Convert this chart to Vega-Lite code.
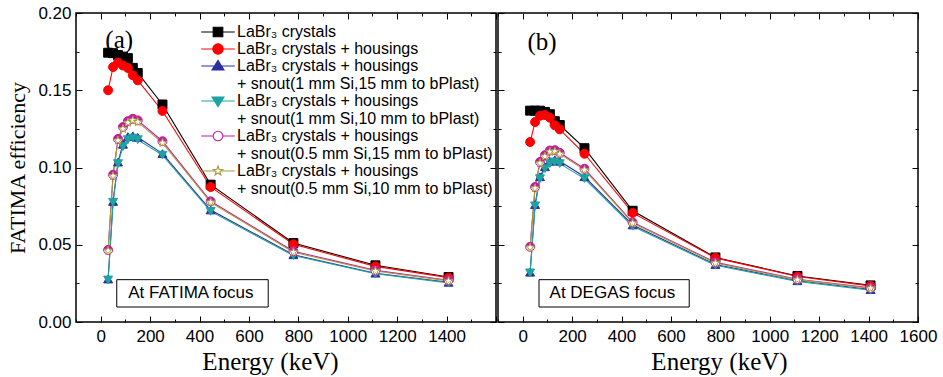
{
  "$schema": "https://vega.github.io/schema/vega-lite/v6.json",
  "padding": {"left": 6, "top": 3, "right": 5, "bottom": 2},
  "background": "white",
  "spacing": -2,
  "config": {
    "view": {"stroke": "#000", "strokeWidth": 1.5},
    "axis": {"labelFont": "Liberation Sans", "labelFontSize": 17, "labelColor": "#000", "tickColor": "#000", "tickWidth": 1, "domain": false, "grid": false, "titleFont": "Liberation Serif", "titleFontWeight": "normal", "titleColor": "#000", "labelOverlap": false, "labelFlush": false}
  },
  "data": {"values": [
    {"panel":"a","series":"LaBr₃ crystals","energy":30,"eff":0.1743},
    {"panel":"a","series":"LaBr₃ crystals","energy":50,"eff":0.1740},
    {"panel":"a","series":"LaBr₃ crystals","energy":70,"eff":0.1728},
    {"panel":"a","series":"LaBr₃ crystals","energy":90,"eff":0.1718},
    {"panel":"a","series":"LaBr₃ crystals","energy":110,"eff":0.1708},
    {"panel":"a","series":"LaBr₃ crystals","energy":130,"eff":0.1645},
    {"panel":"a","series":"LaBr₃ crystals","energy":150,"eff":0.1612},
    {"panel":"a","series":"LaBr₃ crystals","energy":250,"eff":0.1408},
    {"panel":"a","series":"LaBr₃ crystals","energy":445,"eff":0.0889},
    {"panel":"a","series":"LaBr₃ crystals","energy":780,"eff":0.0511},
    {"panel":"a","series":"LaBr₃ crystals","energy":1112,"eff":0.0367},
    {"panel":"a","series":"LaBr₃ crystals","energy":1408,"eff":0.0291},
    {"panel":"a","series":"LaBr₃ crystals + housings","energy":30,"eff":0.1500},
    {"panel":"a","series":"LaBr₃ crystals + housings","energy":50,"eff":0.1650},
    {"panel":"a","series":"LaBr₃ crystals + housings","energy":70,"eff":0.1680},
    {"panel":"a","series":"LaBr₃ crystals + housings","energy":90,"eff":0.1660},
    {"panel":"a","series":"LaBr₃ crystals + housings","energy":110,"eff":0.1644},
    {"panel":"a","series":"LaBr₃ crystals + housings","energy":130,"eff":0.1597},
    {"panel":"a","series":"LaBr₃ crystals + housings","energy":150,"eff":0.1564},
    {"panel":"a","series":"LaBr₃ crystals + housings","energy":250,"eff":0.1366},
    {"panel":"a","series":"LaBr₃ crystals + housings","energy":445,"eff":0.0874},
    {"panel":"a","series":"LaBr₃ crystals + housings","energy":780,"eff":0.0503},
    {"panel":"a","series":"LaBr₃ crystals + housings","energy":1112,"eff":0.0360},
    {"panel":"a","series":"LaBr₃ crystals + housings","energy":1408,"eff":0.0287},
    {"panel":"a","series":"LaBr₃ crystals + housings + snout(1 mm Si,15 mm to bPlast)","energy":30,"eff":0.0278},
    {"panel":"a","series":"LaBr₃ crystals + housings + snout(1 mm Si,15 mm to bPlast)","energy":50,"eff":0.0780},
    {"panel":"a","series":"LaBr₃ crystals + housings + snout(1 mm Si,15 mm to bPlast)","energy":70,"eff":0.1035},
    {"panel":"a","series":"LaBr₃ crystals + housings + snout(1 mm Si,15 mm to bPlast)","energy":90,"eff":0.1150},
    {"panel":"a","series":"LaBr₃ crystals + housings + snout(1 mm Si,15 mm to bPlast)","energy":110,"eff":0.1200},
    {"panel":"a","series":"LaBr₃ crystals + housings + snout(1 mm Si,15 mm to bPlast)","energy":130,"eff":0.1205},
    {"panel":"a","series":"LaBr₃ crystals + housings + snout(1 mm Si,15 mm to bPlast)","energy":150,"eff":0.1195},
    {"panel":"a","series":"LaBr₃ crystals + housings + snout(1 mm Si,15 mm to bPlast)","energy":250,"eff":0.1090},
    {"panel":"a","series":"LaBr₃ crystals + housings + snout(1 mm Si,15 mm to bPlast)","energy":445,"eff":0.0725},
    {"panel":"a","series":"LaBr₃ crystals + housings + snout(1 mm Si,15 mm to bPlast)","energy":780,"eff":0.0435},
    {"panel":"a","series":"LaBr₃ crystals + housings + snout(1 mm Si,15 mm to bPlast)","energy":1112,"eff":0.0316},
    {"panel":"a","series":"LaBr₃ crystals + housings + snout(1 mm Si,15 mm to bPlast)","energy":1408,"eff":0.0257},
    {"panel":"a","series":"LaBr₃ crystals + housings + snout(1 mm Si,10 mm to bPlast)","energy":30,"eff":0.0272},
    {"panel":"a","series":"LaBr₃ crystals + housings + snout(1 mm Si,10 mm to bPlast)","energy":50,"eff":0.0775},
    {"panel":"a","series":"LaBr₃ crystals + housings + snout(1 mm Si,10 mm to bPlast)","energy":70,"eff":0.1025},
    {"panel":"a","series":"LaBr₃ crystals + housings + snout(1 mm Si,10 mm to bPlast)","energy":90,"eff":0.1135},
    {"panel":"a","series":"LaBr₃ crystals + housings + snout(1 mm Si,10 mm to bPlast)","energy":110,"eff":0.1180},
    {"panel":"a","series":"LaBr₃ crystals + housings + snout(1 mm Si,10 mm to bPlast)","energy":130,"eff":0.1190},
    {"panel":"a","series":"LaBr₃ crystals + housings + snout(1 mm Si,10 mm to bPlast)","energy":150,"eff":0.1180},
    {"panel":"a","series":"LaBr₃ crystals + housings + snout(1 mm Si,10 mm to bPlast)","energy":250,"eff":0.1080},
    {"panel":"a","series":"LaBr₃ crystals + housings + snout(1 mm Si,10 mm to bPlast)","energy":445,"eff":0.0716},
    {"panel":"a","series":"LaBr₃ crystals + housings + snout(1 mm Si,10 mm to bPlast)","energy":780,"eff":0.0430},
    {"panel":"a","series":"LaBr₃ crystals + housings + snout(1 mm Si,10 mm to bPlast)","energy":1112,"eff":0.0312},
    {"panel":"a","series":"LaBr₃ crystals + housings + snout(1 mm Si,10 mm to bPlast)","energy":1408,"eff":0.0253},
    {"panel":"a","series":"LaBr₃ crystals + housings + snout(0.5 mm Si,15 mm to bPlast)","energy":30,"eff":0.0466},
    {"panel":"a","series":"LaBr₃ crystals + housings + snout(0.5 mm Si,15 mm to bPlast)","energy":50,"eff":0.0953},
    {"panel":"a","series":"LaBr₃ crystals + housings + snout(0.5 mm Si,15 mm to bPlast)","energy":70,"eff":0.1185},
    {"panel":"a","series":"LaBr₃ crystals + housings + snout(0.5 mm Si,15 mm to bPlast)","energy":90,"eff":0.1262},
    {"panel":"a","series":"LaBr₃ crystals + housings + snout(0.5 mm Si,15 mm to bPlast)","energy":110,"eff":0.1300},
    {"panel":"a","series":"LaBr₃ crystals + housings + snout(0.5 mm Si,15 mm to bPlast)","energy":130,"eff":0.1315},
    {"panel":"a","series":"LaBr₃ crystals + housings + snout(0.5 mm Si,15 mm to bPlast)","energy":150,"eff":0.1305},
    {"panel":"a","series":"LaBr₃ crystals + housings + snout(0.5 mm Si,15 mm to bPlast)","energy":250,"eff":0.1170},
    {"panel":"a","series":"LaBr₃ crystals + housings + snout(0.5 mm Si,15 mm to bPlast)","energy":445,"eff":0.0781},
    {"panel":"a","series":"LaBr₃ crystals + housings + snout(0.5 mm Si,15 mm to bPlast)","energy":780,"eff":0.0458},
    {"panel":"a","series":"LaBr₃ crystals + housings + snout(0.5 mm Si,15 mm to bPlast)","energy":1112,"eff":0.0334},
    {"panel":"a","series":"LaBr₃ crystals + housings + snout(0.5 mm Si,15 mm to bPlast)","energy":1408,"eff":0.0270},
    {"panel":"a","series":"LaBr₃ crystals + housings + snout(0.5 mm Si,10 mm to bPlast)","energy":30,"eff":0.0462},
    {"panel":"a","series":"LaBr₃ crystals + housings + snout(0.5 mm Si,10 mm to bPlast)","energy":50,"eff":0.0945},
    {"panel":"a","series":"LaBr₃ crystals + housings + snout(0.5 mm Si,10 mm to bPlast)","energy":70,"eff":0.1175},
    {"panel":"a","series":"LaBr₃ crystals + housings + snout(0.5 mm Si,10 mm to bPlast)","energy":90,"eff":0.1250},
    {"panel":"a","series":"LaBr₃ crystals + housings + snout(0.5 mm Si,10 mm to bPlast)","energy":110,"eff":0.1290},
    {"panel":"a","series":"LaBr₃ crystals + housings + snout(0.5 mm Si,10 mm to bPlast)","energy":130,"eff":0.1305},
    {"panel":"a","series":"LaBr₃ crystals + housings + snout(0.5 mm Si,10 mm to bPlast)","energy":150,"eff":0.1295},
    {"panel":"a","series":"LaBr₃ crystals + housings + snout(0.5 mm Si,10 mm to bPlast)","energy":250,"eff":0.1160},
    {"panel":"a","series":"LaBr₃ crystals + housings + snout(0.5 mm Si,10 mm to bPlast)","energy":445,"eff":0.0775},
    {"panel":"a","series":"LaBr₃ crystals + housings + snout(0.5 mm Si,10 mm to bPlast)","energy":780,"eff":0.0452},
    {"panel":"a","series":"LaBr₃ crystals + housings + snout(0.5 mm Si,10 mm to bPlast)","energy":1112,"eff":0.0330},
    {"panel":"a","series":"LaBr₃ crystals + housings + snout(0.5 mm Si,10 mm to bPlast)","energy":1408,"eff":0.0266},
    {"panel":"b","series":"LaBr₃ crystals","energy":30,"eff":0.1368},
    {"panel":"b","series":"LaBr₃ crystals","energy":50,"eff":0.1368},
    {"panel":"b","series":"LaBr₃ crystals","energy":70,"eff":0.1368},
    {"panel":"b","series":"LaBr₃ crystals","energy":90,"eff":0.1360},
    {"panel":"b","series":"LaBr₃ crystals","energy":110,"eff":0.1345},
    {"panel":"b","series":"LaBr₃ crystals","energy":130,"eff":0.1300},
    {"panel":"b","series":"LaBr₃ crystals","energy":150,"eff":0.1275},
    {"panel":"b","series":"LaBr₃ crystals","energy":250,"eff":0.1125},
    {"panel":"b","series":"LaBr₃ crystals","energy":445,"eff":0.0720},
    {"panel":"b","series":"LaBr₃ crystals","energy":780,"eff":0.0418},
    {"panel":"b","series":"LaBr₃ crystals","energy":1112,"eff":0.0298},
    {"panel":"b","series":"LaBr₃ crystals","energy":1408,"eff":0.0237},
    {"panel":"b","series":"LaBr₃ crystals + housings","energy":30,"eff":0.1165},
    {"panel":"b","series":"LaBr₃ crystals + housings","energy":50,"eff":0.1294},
    {"panel":"b","series":"LaBr₃ crystals + housings","energy":70,"eff":0.1335},
    {"panel":"b","series":"LaBr₃ crystals + housings","energy":90,"eff":0.1340},
    {"panel":"b","series":"LaBr₃ crystals + housings","energy":110,"eff":0.1322},
    {"panel":"b","series":"LaBr₃ crystals + housings","energy":130,"eff":0.1273},
    {"panel":"b","series":"LaBr₃ crystals + housings","energy":150,"eff":0.1247},
    {"panel":"b","series":"LaBr₃ crystals + housings","energy":250,"eff":0.1089},
    {"panel":"b","series":"LaBr₃ crystals + housings","energy":445,"eff":0.0706},
    {"panel":"b","series":"LaBr₃ crystals + housings","energy":780,"eff":0.0415},
    {"panel":"b","series":"LaBr₃ crystals + housings","energy":1112,"eff":0.0295},
    {"panel":"b","series":"LaBr₃ crystals + housings","energy":1408,"eff":0.0234},
    {"panel":"b","series":"LaBr₃ crystals + housings + snout(1 mm Si,15 mm to bPlast)","energy":30,"eff":0.0322},
    {"panel":"b","series":"LaBr₃ crystals + housings + snout(1 mm Si,15 mm to bPlast)","energy":50,"eff":0.0760},
    {"panel":"b","series":"LaBr₃ crystals + housings + snout(1 mm Si,15 mm to bPlast)","energy":70,"eff":0.0940},
    {"panel":"b","series":"LaBr₃ crystals + housings + snout(1 mm Si,15 mm to bPlast)","energy":90,"eff":0.1005},
    {"panel":"b","series":"LaBr₃ crystals + housings + snout(1 mm Si,15 mm to bPlast)","energy":110,"eff":0.1040},
    {"panel":"b","series":"LaBr₃ crystals + housings + snout(1 mm Si,15 mm to bPlast)","energy":130,"eff":0.1050},
    {"panel":"b","series":"LaBr₃ crystals + housings + snout(1 mm Si,15 mm to bPlast)","energy":150,"eff":0.1040},
    {"panel":"b","series":"LaBr₃ crystals + housings + snout(1 mm Si,15 mm to bPlast)","energy":250,"eff":0.0940},
    {"panel":"b","series":"LaBr₃ crystals + housings + snout(1 mm Si,15 mm to bPlast)","energy":445,"eff":0.0628},
    {"panel":"b","series":"LaBr₃ crystals + housings + snout(1 mm Si,15 mm to bPlast)","energy":780,"eff":0.0372},
    {"panel":"b","series":"LaBr₃ crystals + housings + snout(1 mm Si,15 mm to bPlast)","energy":1112,"eff":0.0267},
    {"panel":"b","series":"LaBr₃ crystals + housings + snout(1 mm Si,15 mm to bPlast)","energy":1408,"eff":0.0210},
    {"panel":"b","series":"LaBr₃ crystals + housings + snout(1 mm Si,10 mm to bPlast)","energy":30,"eff":0.0318},
    {"panel":"b","series":"LaBr₃ crystals + housings + snout(1 mm Si,10 mm to bPlast)","energy":50,"eff":0.0752},
    {"panel":"b","series":"LaBr₃ crystals + housings + snout(1 mm Si,10 mm to bPlast)","energy":70,"eff":0.0928},
    {"panel":"b","series":"LaBr₃ crystals + housings + snout(1 mm Si,10 mm to bPlast)","energy":90,"eff":0.0992},
    {"panel":"b","series":"LaBr₃ crystals + housings + snout(1 mm Si,10 mm to bPlast)","energy":110,"eff":0.1025},
    {"panel":"b","series":"LaBr₃ crystals + housings + snout(1 mm Si,10 mm to bPlast)","energy":130,"eff":0.1036},
    {"panel":"b","series":"LaBr₃ crystals + housings + snout(1 mm Si,10 mm to bPlast)","energy":150,"eff":0.1025},
    {"panel":"b","series":"LaBr₃ crystals + housings + snout(1 mm Si,10 mm to bPlast)","energy":250,"eff":0.0928},
    {"panel":"b","series":"LaBr₃ crystals + housings + snout(1 mm Si,10 mm to bPlast)","energy":445,"eff":0.0620},
    {"panel":"b","series":"LaBr₃ crystals + housings + snout(1 mm Si,10 mm to bPlast)","energy":780,"eff":0.0367},
    {"panel":"b","series":"LaBr₃ crystals + housings + snout(1 mm Si,10 mm to bPlast)","energy":1112,"eff":0.0263},
    {"panel":"b","series":"LaBr₃ crystals + housings + snout(1 mm Si,10 mm to bPlast)","energy":1408,"eff":0.0206},
    {"panel":"b","series":"LaBr₃ crystals + housings + snout(0.5 mm Si,15 mm to bPlast)","energy":30,"eff":0.0487},
    {"panel":"b","series":"LaBr₃ crystals + housings + snout(0.5 mm Si,15 mm to bPlast)","energy":50,"eff":0.0874},
    {"panel":"b","series":"LaBr₃ crystals + housings + snout(0.5 mm Si,15 mm to bPlast)","energy":70,"eff":0.1036},
    {"panel":"b","series":"LaBr₃ crystals + housings + snout(0.5 mm Si,15 mm to bPlast)","energy":90,"eff":0.1080},
    {"panel":"b","series":"LaBr₃ crystals + housings + snout(0.5 mm Si,15 mm to bPlast)","energy":110,"eff":0.1110},
    {"panel":"b","series":"LaBr₃ crystals + housings + snout(0.5 mm Si,15 mm to bPlast)","energy":130,"eff":0.1112},
    {"panel":"b","series":"LaBr₃ crystals + housings + snout(0.5 mm Si,15 mm to bPlast)","energy":150,"eff":0.1095},
    {"panel":"b","series":"LaBr₃ crystals + housings + snout(0.5 mm Si,15 mm to bPlast)","energy":250,"eff":0.0992},
    {"panel":"b","series":"LaBr₃ crystals + housings + snout(0.5 mm Si,15 mm to bPlast)","energy":445,"eff":0.0645},
    {"panel":"b","series":"LaBr₃ crystals + housings + snout(0.5 mm Si,15 mm to bPlast)","energy":780,"eff":0.0386},
    {"panel":"b","series":"LaBr₃ crystals + housings + snout(0.5 mm Si,15 mm to bPlast)","energy":1112,"eff":0.0277},
    {"panel":"b","series":"LaBr₃ crystals + housings + snout(0.5 mm Si,15 mm to bPlast)","energy":1408,"eff":0.0221},
    {"panel":"b","series":"LaBr₃ crystals + housings + snout(0.5 mm Si,10 mm to bPlast)","energy":30,"eff":0.0483},
    {"panel":"b","series":"LaBr₃ crystals + housings + snout(0.5 mm Si,10 mm to bPlast)","energy":50,"eff":0.0866},
    {"panel":"b","series":"LaBr₃ crystals + housings + snout(0.5 mm Si,10 mm to bPlast)","energy":70,"eff":0.1028},
    {"panel":"b","series":"LaBr₃ crystals + housings + snout(0.5 mm Si,10 mm to bPlast)","energy":90,"eff":0.1072},
    {"panel":"b","series":"LaBr₃ crystals + housings + snout(0.5 mm Si,10 mm to bPlast)","energy":110,"eff":0.1102},
    {"panel":"b","series":"LaBr₃ crystals + housings + snout(0.5 mm Si,10 mm to bPlast)","energy":130,"eff":0.1104},
    {"panel":"b","series":"LaBr₃ crystals + housings + snout(0.5 mm Si,10 mm to bPlast)","energy":150,"eff":0.1088},
    {"panel":"b","series":"LaBr₃ crystals + housings + snout(0.5 mm Si,10 mm to bPlast)","energy":250,"eff":0.0985},
    {"panel":"b","series":"LaBr₃ crystals + housings + snout(0.5 mm Si,10 mm to bPlast)","energy":445,"eff":0.0640},
    {"panel":"b","series":"LaBr₃ crystals + housings + snout(0.5 mm Si,10 mm to bPlast)","energy":780,"eff":0.0382},
    {"panel":"b","series":"LaBr₃ crystals + housings + snout(0.5 mm Si,10 mm to bPlast)","energy":1112,"eff":0.0274},
    {"panel":"b","series":"LaBr₃ crystals + housings + snout(0.5 mm Si,10 mm to bPlast)","energy":1408,"eff":0.0218}
  ]},
  "hconcat": [
    {
      "width": 420, "height": 309,
      "layer": [
        {
          "transform": [{"filter": "datum.panel === 'a'"}],
          "mark": {"type": "line", "strokeWidth": 1.1},
          "encoding": {
            "x": {"field": "energy", "type": "quantitative", "scale": {"domain": [-100, 1600], "nice": false, "zero": false},
                  "axis": {"orient": "bottom", "values": [0,200,400,600,800,1000,1200,1400], "format": "d", "ticks": false, "labelPadding": 6, "title": "Energy (keV)", "titleFontSize": 25, "titleX": 194, "titlePadding": 5}},
            "y": {"field": "eff", "type": "quantitative", "scale": {"domain": [0, 0.2], "nice": false},
                  "axis": {"orient": "left", "values": [0,0.05,0.1,0.15,0.2], "format": ".2f", "ticks": false, "labelPadding": 5, "title": "FATIMA efficiency", "titleFontSize": 22, "titlePadding": 8}},
            "stroke": {"field": "series", "type": "nominal", "legend": null,
                  "scale": {"domain": ["LaBr₃ crystals","LaBr₃ crystals + housings","LaBr₃ crystals + housings + snout(1 mm Si,15 mm to bPlast)","LaBr₃ crystals + housings + snout(1 mm Si,10 mm to bPlast)","LaBr₃ crystals + housings + snout(0.5 mm Si,15 mm to bPlast)","LaBr₃ crystals + housings + snout(0.5 mm Si,10 mm to bPlast)"], "range": ["#000000","#ff0000","#2b2f9e","#1fa3a0","#c21aa6","#a89b3a"]}}
          }
        },
        {
          "transform": [{"filter": "datum.panel === 'a' && indexof(datum.series, '0.5 mm Si,10') < 0"}],
          "mark": {"type": "point", "filled": true, "opacity": 1, "strokeWidth": 1, "size": 80},
          "encoding": {
            "x": {"field": "energy", "type": "quantitative", "axis": {"orient": "top", "values": [0,200,400,600,800,1000,1200,1400,1600], "tickSize": 6, "offset": -6, "labels": false, "title": null}},
            "y": {"field": "eff", "type": "quantitative", "axis": {"orient": "right", "values": [0,0.05,0.1,0.15,0.2], "tickSize": 6, "offset": -6, "labels": false, "title": null}},
            "stroke": {"field": "series", "type": "nominal", "legend": null,
                  "scale": {"domain": ["LaBr₃ crystals","LaBr₃ crystals + housings","LaBr₃ crystals + housings + snout(1 mm Si,15 mm to bPlast)","LaBr₃ crystals + housings + snout(1 mm Si,10 mm to bPlast)","LaBr₃ crystals + housings + snout(0.5 mm Si,15 mm to bPlast)","LaBr₃ crystals + housings + snout(0.5 mm Si,10 mm to bPlast)"], "range": ["#000000","#ff0000","#2b2f9e","#1fa3a0","#c21aa6","#a89b3a"]}},
            "fill": {"field": "series", "type": "nominal", "legend": null,
                  "scale": {"domain": ["LaBr₃ crystals","LaBr₃ crystals + housings","LaBr₃ crystals + housings + snout(1 mm Si,15 mm to bPlast)","LaBr₃ crystals + housings + snout(1 mm Si,10 mm to bPlast)","LaBr₃ crystals + housings + snout(0.5 mm Si,15 mm to bPlast)","LaBr₃ crystals + housings + snout(0.5 mm Si,10 mm to bPlast)"], "range": ["#000000","#ff0000","#2b2f9e","#1fa3a0","#ffffff","#ffffff"]}},
            "shape": {"field": "series", "type": "nominal", "legend": null,
                  "scale": {"domain": ["LaBr₃ crystals","LaBr₃ crystals + housings","LaBr₃ crystals + housings + snout(1 mm Si,15 mm to bPlast)","LaBr₃ crystals + housings + snout(1 mm Si,10 mm to bPlast)","LaBr₃ crystals + housings + snout(0.5 mm Si,15 mm to bPlast)","LaBr₃ crystals + housings + snout(0.5 mm Si,10 mm to bPlast)"], "range": ["square","circle","triangle-up","triangle-down","circle","M0,-1L0.235,-0.324L0.951,-0.309L0.38,0.124L0.588,0.809L0,0.4L-0.588,0.809L-0.38,0.124L-0.951,-0.309L-0.235,-0.324Z"]}}
          }
        },
        {
          "transform": [{"filter": "datum.panel === 'a' && indexof(datum.series, '0.5 mm Si,15') > 0"}],
          "mark": {"type": "point", "filled": true, "opacity": 1, "strokeWidth": 0, "size": 80, "shape": "M-1,0A1,1 0 0,1 1,0Z", "color": "#c21aa6"},
          "encoding": {
            "x": {"field": "energy", "type": "quantitative", "axis": null},
            "y": {"field": "eff", "type": "quantitative", "axis": null}
          }
        },
        {
          "transform": [{"filter": "datum.panel === 'a' && indexof(datum.series, '0.5 mm Si,10') > 0"}],
          "mark": {"type": "point", "opacity": 1, "strokeWidth": 1, "size": 80, "shape": "M0,-1L0.235,-0.324L0.951,-0.309L0.38,0.124L0.588,0.809L0,0.4L-0.588,0.809L-0.38,0.124L-0.951,-0.309L-0.235,-0.324Z", "fill": "#ffffff", "stroke": "#a89b3a"},
          "encoding": {
            "x": {"field": "energy", "type": "quantitative", "axis": null},
            "y": {"field": "eff", "type": "quantitative", "axis": null}
          }
        },
        {
          "transform": [{"filter": "datum.panel === 'a'"}, {"filter": "false"}],
          "mark": {"type": "point", "filled": true, "opacity": 1, "strokeWidth": 1.1},
          "encoding": {
            "x": {"field": "energy", "type": "quantitative", "axis": {"orient": "bottom", "values": [-100,100,300,500,700,900,1100,1300,1500], "tickSize": 3, "offset": -3, "labels": false, "title": null}},
            "y": {"field": "eff", "type": "quantitative", "axis": {"orient": "left", "values": [0.025,0.075,0.125,0.175], "tickSize": 3, "offset": -3, "labels": false, "title": null}},
            "stroke": {"field": "series", "type": "nominal",
                  "legend": {"title": null, "orient": "none", "legendX": 133, "legendY": 10, "symbolSize": 256, "symbolStrokeWidth": 1.1, "labelFont": "Liberation Sans", "labelFontSize": 16, "labelColor": "#000", "labelOffset": 10, "rowPadding": 0, "labelLimit": 500, "padding": 0, "symbolOpacity": 1, "labelExpr": "indexof(datum.label, ' + snout') > 0 ? [slice(datum.label, 0, indexof(datum.label, ' + snout')), '\u00a0' + slice(datum.label, indexof(datum.label, ' + snout') + 1)] : datum.label"},
                  "scale": {"domain": ["LaBr₃ crystals","LaBr₃ crystals + housings","LaBr₃ crystals + housings + snout(1 mm Si,15 mm to bPlast)","LaBr₃ crystals + housings + snout(1 mm Si,10 mm to bPlast)","LaBr₃ crystals + housings + snout(0.5 mm Si,15 mm to bPlast)","LaBr₃ crystals + housings + snout(0.5 mm Si,10 mm to bPlast)"], "range": ["#000000","#ff0000","#2b2f9e","#1fa3a0","#c21aa6","#a89b3a"]}},
            "fill": {"field": "series", "type": "nominal",
                  "legend": {"title": null, "orient": "none", "legendX": 133, "legendY": 10, "symbolSize": 256, "symbolStrokeWidth": 1.1, "labelFont": "Liberation Sans", "labelFontSize": 16, "labelColor": "#000", "labelOffset": 10, "rowPadding": 0, "labelLimit": 500, "padding": 0, "symbolOpacity": 1, "labelExpr": "indexof(datum.label, ' + snout') > 0 ? [slice(datum.label, 0, indexof(datum.label, ' + snout')), '\u00a0' + slice(datum.label, indexof(datum.label, ' + snout') + 1)] : datum.label"},
                  "scale": {"domain": ["LaBr₃ crystals","LaBr₃ crystals + housings","LaBr₃ crystals + housings + snout(1 mm Si,15 mm to bPlast)","LaBr₃ crystals + housings + snout(1 mm Si,10 mm to bPlast)","LaBr₃ crystals + housings + snout(0.5 mm Si,15 mm to bPlast)","LaBr₃ crystals + housings + snout(0.5 mm Si,10 mm to bPlast)"], "range": ["#000000","#ff0000","#2b2f9e","#1fa3a0","#ffffff","#ffffff"]}},
            "shape": {"field": "series", "type": "nominal",
                  "legend": {"title": null, "orient": "none", "legendX": 133, "legendY": 10, "symbolSize": 256, "symbolStrokeWidth": 1.1, "labelFont": "Liberation Sans", "labelFontSize": 16, "labelColor": "#000", "labelOffset": 10, "rowPadding": 0, "labelLimit": 500, "padding": 0, "symbolOpacity": 1, "labelExpr": "indexof(datum.label, ' + snout') > 0 ? [slice(datum.label, 0, indexof(datum.label, ' + snout')), '\u00a0' + slice(datum.label, indexof(datum.label, ' + snout') + 1)] : datum.label"},
                  "scale": {"domain": ["LaBr₃ crystals","LaBr₃ crystals + housings","LaBr₃ crystals + housings + snout(1 mm Si,15 mm to bPlast)","LaBr₃ crystals + housings + snout(1 mm Si,10 mm to bPlast)","LaBr₃ crystals + housings + snout(0.5 mm Si,15 mm to bPlast)","LaBr₃ crystals + housings + snout(0.5 mm Si,10 mm to bPlast)"],
                            "range": ["M-2.1,0H-0.6M0.6,0H2.1M-0.6,-0.6H0.6V0.6H-0.6Z",
                                      "M-2.1,0H-0.65M0.65,0H2.1M-0.65,0A0.65,0.65 0 1,0 0.65,0A0.65,0.65 0 1,0 -0.65,0Z",
                                      "M-2.1,0H2.1M0,-0.7L0.75,0.5H-0.75Z",
                                      "M-2.1,0H2.1M0,0.7L0.75,-0.5H-0.75Z",
                                      "M-2.1,0H-0.6M0.6,0H2.1M-0.6,0A0.6,0.6 0 1,0 0.6,0A0.6,0.6 0 1,0 -0.6,0Z",
                                      "M-2.1,0H-0.34M0.34,0H2.1M0,-0.62L0.146,-0.201L0.59,-0.192L0.236,0.077L0.365,0.502L0,0.248L-0.365,0.502L-0.236,0.077L-0.59,-0.192L-0.146,-0.201Z"]}}
          }
        },
        {
          "data": {"values": [{"label": "(a)"}]},
          "mark": {"type": "text", "font": "Liberation Serif", "fontSize": 25, "color": "#000", "align": "center", "baseline": "middle"},
          "encoding": {
            "x": {"datum": 75, "type": "quantitative", "axis": {"orient": "top", "values": [-100,100,300,500,700,900,1100,1300,1500], "tickSize": 3, "offset": -3, "labels": false, "title": null}},
            "y": {"datum": 0.1825, "type": "quantitative", "axis": {"orient": "right", "values": [0.025,0.075,0.125,0.175], "tickSize": 3, "offset": -3, "labels": false, "title": null}},
            "text": {"field": "label"}
          }
        },
        {
          "data": {"values": [{"label": "At FATIMA focus"}]},
          "mark": {"type": "rect", "fill": "#fff", "stroke": "#000", "strokeWidth": 1},
          "encoding": {
            "x": {"datum": 65, "type": "quantitative", "axis": {"orient": "bottom", "values": [0,200,400,600,800,1000,1200,1400,1600], "tickSize": 6, "offset": -6, "labels": false, "title": null}},
            "x2": {"datum": 678},
            "y": {"datum": 0.0274, "type": "quantitative", "axis": {"orient": "left", "values": [0,0.05,0.1,0.15,0.2], "tickSize": 6, "offset": -6, "labels": false, "title": null}},
            "y2": {"datum": 0.0097}
          }
        },
        {
          "data": {"values": [{"label": "At FATIMA focus"}]},
          "mark": {"type": "text", "font": "Liberation Sans", "fontSize": 17, "color": "#000", "align": "center", "baseline": "middle"},
          "encoding": {
            "x": {"datum": 365, "type": "quantitative", "axis": null},
            "y": {"datum": 0.0186, "type": "quantitative", "axis": null},
            "text": {"field": "label"}
          }
        }
      ],
      "resolve": {"axis": {"x": "independent", "y": "independent"}, "scale": {"stroke": "independent", "fill": "independent", "shape": "independent"}}
    },
    {
      "width": 420, "height": 309,
      "layer": [
        {
          "transform": [{"filter": "datum.panel === 'b'"}],
          "mark": {"type": "line", "strokeWidth": 1.1},
          "encoding": {
            "x": {"field": "energy", "type": "quantitative", "scale": {"domain": [-100, 1600], "nice": false, "zero": false},
                  "axis": {"orient": "bottom", "values": [0,200,400,600,800,1000,1200,1400,1600], "format": "d", "ticks": false, "labelPadding": 6, "title": "Energy (keV)", "titleFontSize": 25, "titleX": 221, "titlePadding": 5}},
            "y": {"field": "eff", "type": "quantitative", "scale": {"domain": [0, 0.2], "nice": false},
                  "axis": {"orient": "left", "values": [0,0.05,0.1,0.15,0.2], "tickSize": 6, "offset": -6, "labels": false, "title": null}},
            "stroke": {"field": "series", "type": "nominal", "legend": null,
                  "scale": {"domain": ["LaBr₃ crystals","LaBr₃ crystals + housings","LaBr₃ crystals + housings + snout(1 mm Si,15 mm to bPlast)","LaBr₃ crystals + housings + snout(1 mm Si,10 mm to bPlast)","LaBr₃ crystals + housings + snout(0.5 mm Si,15 mm to bPlast)","LaBr₃ crystals + housings + snout(0.5 mm Si,10 mm to bPlast)"], "range": ["#000000","#ff0000","#2b2f9e","#1fa3a0","#c21aa6","#a89b3a"]}}
          }
        },
        {
          "transform": [{"filter": "datum.panel === 'b' && indexof(datum.series, '0.5 mm Si,10') < 0"}],
          "mark": {"type": "point", "filled": true, "opacity": 1, "strokeWidth": 1, "size": 80},
          "encoding": {
            "x": {"field": "energy", "type": "quantitative", "axis": {"orient": "top", "values": [0,200,400,600,800,1000,1200,1400,1600], "tickSize": 6, "offset": -6, "labels": false, "title": null}},
            "y": {"field": "eff", "type": "quantitative", "axis": {"orient": "right", "values": [0,0.05,0.1,0.15,0.2], "tickSize": 6, "offset": -6, "labels": false, "title": null}},
            "stroke": {"field": "series", "type": "nominal", "legend": null,
                  "scale": {"domain": ["LaBr₃ crystals","LaBr₃ crystals + housings","LaBr₃ crystals + housings + snout(1 mm Si,15 mm to bPlast)","LaBr₃ crystals + housings + snout(1 mm Si,10 mm to bPlast)","LaBr₃ crystals + housings + snout(0.5 mm Si,15 mm to bPlast)","LaBr₃ crystals + housings + snout(0.5 mm Si,10 mm to bPlast)"], "range": ["#000000","#ff0000","#2b2f9e","#1fa3a0","#c21aa6","#a89b3a"]}},
            "fill": {"field": "series", "type": "nominal", "legend": null,
                  "scale": {"domain": ["LaBr₃ crystals","LaBr₃ crystals + housings","LaBr₃ crystals + housings + snout(1 mm Si,15 mm to bPlast)","LaBr₃ crystals + housings + snout(1 mm Si,10 mm to bPlast)","LaBr₃ crystals + housings + snout(0.5 mm Si,15 mm to bPlast)","LaBr₃ crystals + housings + snout(0.5 mm Si,10 mm to bPlast)"], "range": ["#000000","#ff0000","#2b2f9e","#1fa3a0","#ffffff","#ffffff"]}},
            "shape": {"field": "series", "type": "nominal", "legend": null,
                  "scale": {"domain": ["LaBr₃ crystals","LaBr₃ crystals + housings","LaBr₃ crystals + housings + snout(1 mm Si,15 mm to bPlast)","LaBr₃ crystals + housings + snout(1 mm Si,10 mm to bPlast)","LaBr₃ crystals + housings + snout(0.5 mm Si,15 mm to bPlast)","LaBr₃ crystals + housings + snout(0.5 mm Si,10 mm to bPlast)"], "range": ["square","circle","triangle-up","triangle-down","circle","M0,-1L0.235,-0.324L0.951,-0.309L0.38,0.124L0.588,0.809L0,0.4L-0.588,0.809L-0.38,0.124L-0.951,-0.309L-0.235,-0.324Z"]}}
          }
        },
        {
          "transform": [{"filter": "datum.panel === 'b' && indexof(datum.series, '0.5 mm Si,15') > 0"}],
          "mark": {"type": "point", "filled": true, "opacity": 1, "strokeWidth": 0, "size": 80, "shape": "M-1,0A1,1 0 0,1 1,0Z", "color": "#c21aa6"},
          "encoding": {
            "x": {"field": "energy", "type": "quantitative", "axis": null},
            "y": {"field": "eff", "type": "quantitative", "axis": null}
          }
        },
        {
          "transform": [{"filter": "datum.panel === 'b' && indexof(datum.series, '0.5 mm Si,10') > 0"}],
          "mark": {"type": "point", "opacity": 1, "strokeWidth": 1, "size": 80, "shape": "M0,-1L0.235,-0.324L0.951,-0.309L0.38,0.124L0.588,0.809L0,0.4L-0.588,0.809L-0.38,0.124L-0.951,-0.309L-0.235,-0.324Z", "fill": "#ffffff", "stroke": "#a89b3a"},
          "encoding": {
            "x": {"field": "energy", "type": "quantitative", "axis": null},
            "y": {"field": "eff", "type": "quantitative", "axis": null}
          }
        },
        {
          "data": {"values": [{"label": "(b)"}]},
          "mark": {"type": "text", "font": "Liberation Serif", "fontSize": 25, "color": "#000", "align": "center", "baseline": "middle"},
          "encoding": {
            "x": {"datum": 78, "type": "quantitative", "axis": {"orient": "bottom", "values": [-100,100,300,500,700,900,1100,1300,1500], "tickSize": 3, "offset": -3, "labels": false, "title": null}},
            "y": {"datum": 0.181, "type": "quantitative", "axis": {"orient": "left", "values": [0.025,0.075,0.125,0.175], "tickSize": 3, "offset": -3, "labels": false, "title": null}},
            "text": {"field": "label"}
          }
        },
        {
          "data": {"values": [{"label": "At DEGAS focus"}]},
          "mark": {"type": "rect", "fill": "#fff", "stroke": "#000", "strokeWidth": 1},
          "encoding": {
            "x": {"datum": 66, "type": "quantitative", "axis": {"orient": "top", "values": [-100,100,300,500,700,900,1100,1300,1500], "tickSize": 3, "offset": -3, "labels": false, "title": null}},
            "x2": {"datum": 674},
            "y": {"datum": 0.0274, "type": "quantitative", "axis": {"orient": "right", "values": [0.025,0.075,0.125,0.175], "tickSize": 3, "offset": -3, "labels": false, "title": null}},
            "y2": {"datum": 0.0097}
          }
        },
        {
          "data": {"values": [{"label": "At DEGAS focus"}]},
          "mark": {"type": "text", "font": "Liberation Sans", "fontSize": 17, "color": "#000", "align": "center", "baseline": "middle"},
          "encoding": {
            "x": {"datum": 363, "type": "quantitative", "axis": {"orient": "bottom", "values": [0,200,400,600,800,1000,1200,1400,1600], "tickSize": 6, "offset": -6, "labels": false, "title": null}},
            "y": {"datum": 0.0186, "type": "quantitative", "axis": null},
            "text": {"field": "label"}
          }
        }
      ],
      "resolve": {"axis": {"x": "independent", "y": "independent"}, "scale": {"stroke": "independent", "fill": "independent", "shape": "independent"}}
    }
  ],
  "resolve": {"scale": {"x": "independent", "y": "independent", "stroke": "independent", "fill": "independent", "shape": "independent"}}
}
